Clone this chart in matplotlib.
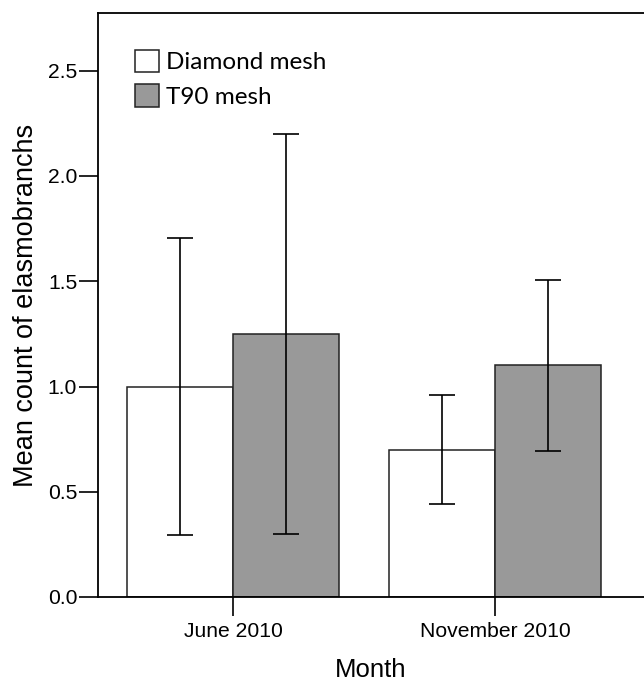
import matplotlib
matplotlib.use("Agg")
import matplotlib.pyplot as plt
import numpy as np

months = ["June 2010", "November 2010"]
series = ["Diamond mesh", "T90 mesh"]
diamond_mean = [1.0, 0.70]
diamond_err = [0.705, 0.26]
t90_mean = [1.25, 1.10]
t90_err = [0.95, 0.405]
yticks = [0.0, 0.5, 1.0, 1.5, 2.0, 2.5]

plt.rcParams['font.family'] = ['Liberation Sans', 'DejaVu Sans']

fig = plt.figure(figsize=(6.44, 6.83), dpi=100)
W, H = 644, 683
ax = fig.add_axes([98 / W, (H - 597) / H, (W - 98) / W, (597 - 13) / H])

x = np.arange(len(months))
bw = 0.405
ekw = dict(ecolor='black', elinewidth=1.2, capsize=9.5, capthick=1.2)
ax.bar(x - bw / 2, diamond_mean, bw, yerr=diamond_err, color='white',
       edgecolor='#222222', linewidth=1.1, error_kw=ekw, label=series[0], zorder=2)
ax.bar(x + bw / 2, t90_mean, bw, yerr=t90_err, color='#999999',
       edgecolor='#222222', linewidth=1.1, error_kw=ekw, label=series[1], zorder=2)

ax.set_xlim(-0.515, (644 - 233) / 262)
ax.set_ylim(0, (597 - 13) / 210.5)
ax.set_xticks(x)
ax.set_xticklabels(months, fontsize=15.2)
ax.set_yticks(yticks)
ax.set_yticklabels([f"{v:.1f}" for v in yticks], fontsize=15.2)
ax.tick_params(axis='x', length=14, width=1.2, pad=4)
ax.tick_params(axis='y', length=14, width=1.2, pad=1)
ax.spines['right'].set_visible(False)
for s in ['left', 'bottom', 'top']:
    ax.spines[s].set_linewidth(1.3)
ax.set_xlabel("Month", fontsize=18.5, labelpad=12)
ax.set_ylabel("Mean count of elasmobranchs", fontsize=19.5, labelpad=6)

leg = ax.legend(loc='upper left', bbox_to_anchor=(0.068, 0.937), frameon=False,
                handlelength=1.0, handleheight=1.05, handletextpad=0.25,
                labelspacing=0.45, borderaxespad=0, borderpad=0,
                prop={'family': ['Lato', 'DejaVu Sans'], 'size': 17.5})

fig.savefig("out.png", dpi=100)
